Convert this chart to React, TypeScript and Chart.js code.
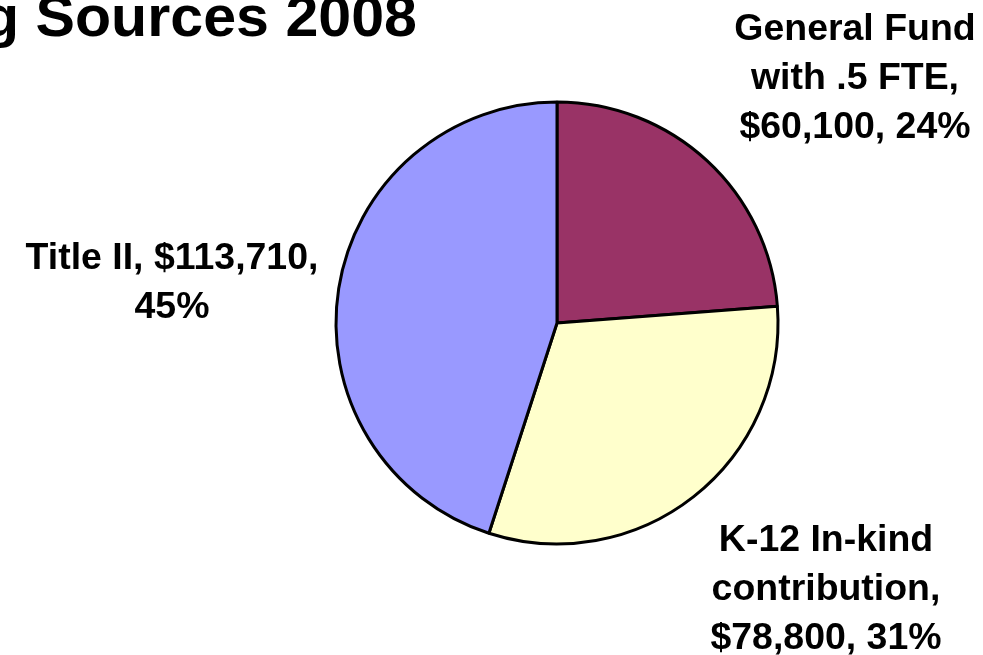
import React, { useEffect, useRef } from "react";
import { Chart, registerables } from "chart.js";

Chart.register(...registerables);

const titleText = "Funding Sources 2008";
const categories = ["General Fund with .5 FTE", "K-12 In-kind contribution", "Title II"];
const nameLines = [["General Fund", "with .5 FTE"], ["K-12 In-kind", "contribution"], ["Title II"]];
const values = [60100, 78800, 113710];
const colors = ["#993366", "#FFFFCC", "#9999FF"];

// label anchor positions (centre x, first line centre y) for each slice
const labelAnchors = [
  { x: 855, y: 30 },
  { x: 826, y: 541 },
  { x: 172, y: 259 },
];

const FONT_FAMILY = "'Liberation Sans', Arial, Helvetica, sans-serif";
const TEXT_SCALE_X = 1.04;
const TITLE_SCALE_X = 1.02;
const LINE_H = 49;

function money(v: number) {
  return "$" + v.toLocaleString("en-US");
}

function buildLines(i: number, total: number): string[] {
  const pct = Math.round((values[i] / total) * 100) + "%";
  const names = nameLines[i];
  if (names.length === 1) {
    return [`${names[0]}, ${money(values[i])},`, pct];
  }
  const out = names.slice(0, -1);
  out.push(names[names.length - 1] + ",");
  out.push(`${money(values[i])}, ${pct}`);
  return out;
}

function drawScaled(ctx: CanvasRenderingContext2D, text: string, x: number, y: number, align: "center" | "right", sx: number) {
  ctx.save();
  ctx.translate(x, y);
  ctx.scale(sx, 1);
  ctx.textAlign = align;
  ctx.fillText(text, 0, 0);
  ctx.restore();
}

const labelsPlugin = {
  id: "customLabels",
  afterDraw(chart: any) {
    const ctx: CanvasRenderingContext2D = chart.ctx;
    const total = values.reduce((a, b) => a + b, 0);
    ctx.save();
    ctx.fillStyle = "#000000";
    // title (cut off at the left edge like the reference)
    ctx.font = `bold 58px ${FONT_FAMILY}`;
    ctx.textBaseline = "alphabetic";
    drawScaled(ctx, titleText, 417, 36, "right", TITLE_SCALE_X);
    // slice labels
    ctx.font = `bold 36px ${FONT_FAMILY}`;
    ctx.textBaseline = "middle";
    for (let i = 0; i < values.length; i++) {
      const lines = buildLines(i, total);
      const a = labelAnchors[i];
      lines.forEach((ln, k) => drawScaled(ctx, ln, a.x, a.y + k * LINE_H, "center", TEXT_SCALE_X));
    }
    ctx.restore();
  },
};

export default function App() {
  const ref = useRef<HTMLCanvasElement | null>(null);
  useEffect(() => {
    if (!ref.current) return;
    const chart = new Chart(ref.current, {
      type: "pie",
      data: {
        labels: categories,
        datasets: [
          {
            data: values,
            backgroundColor: colors,
            borderColor: "#000000",
            borderWidth: 3,
          },
        ],
      },
      options: {
        responsive: false,
        animation: false,
        radius: 221,
        layout: { padding: { left: 330, right: 199, top: 100, bottom: 109 } },
        plugins: {
          legend: { display: false },
          tooltip: { enabled: false },
          title: { display: false },
        },
        events: [],
      } as any,
      plugins: [labelsPlugin],
    });
    return () => chart.destroy();
  }, []);
  return (
    <div style={{ position: "fixed", left: 0, top: 0, width: 983, height: 655, background: "#ffffff" }}>
      <canvas ref={ref} width={983} height={655} style={{ display: "block" }} />
    </div>
  );
}
